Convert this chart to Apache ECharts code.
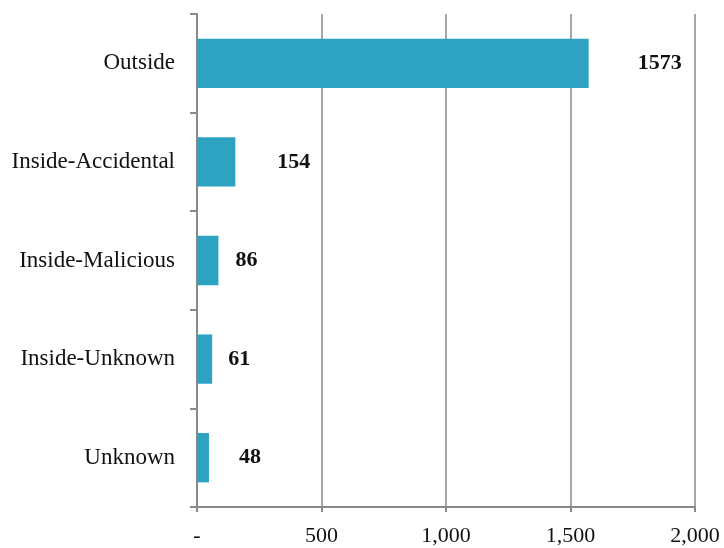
<!DOCTYPE html>
<html>
<head>
<meta charset="utf-8">
<script src="https://cdn.jsdelivr.net/npm/echarts@6/dist/echarts.min.js"></script>
<style>
  html, body { margin: 0; padding: 0; background: #fff; }
  #chart { width: 724px; height: 548px; }
</style>
</head>
<body>
<div id="chart"></div>
<script>
// Incident sources and counts
const categories = ['Outside', 'Inside-Accidental', 'Inside-Malicious', 'Inside-Unknown', 'Unknown'];
const counts = [1573, 154, 86, 61, 48];
// Gap between each bar end and its value label
const labelGaps = [49, 42, 17, 16, 30];

const serif = '"Liberation Serif", "DejaVu Serif", serif';
const axisGray = '#8a8a8a';

const chart = echarts.init(document.getElementById('chart'), null, { renderer: 'canvas' });

chart.setOption({
  animation: false,
  backgroundColor: '#ffffff',
  grid: { left: 197, right: 29, top: 14, bottom: 41, containLabel: false },
  xAxis: {
    type: 'value',
    min: 0,
    max: 2000,
    interval: 500,
    axisLine: { show: true, lineStyle: { color: axisGray, width: 2 } },
    axisTick: { show: true, length: 5, inside: false, lineStyle: { color: axisGray, width: 2 } },
    splitLine: { show: true, lineStyle: { color: axisGray, width: 1.5 } },
    axisLabel: {
      margin: 18,
      color: '#111',
      fontFamily: serif,
      fontSize: 22,
      formatter: v => v === 0 ? '-' : v.toLocaleString('en-US')
    }
  },
  yAxis: {
    type: 'category',
    inverse: true,
    data: categories,
    boundaryGap: true,
    axisLine: { show: true, lineStyle: { color: axisGray, width: 2 } },
    axisTick: { show: true, length: 7, lineStyle: { color: axisGray, width: 2 } },
    axisLabel: {
      margin: 22,
      color: '#111',
      fontFamily: serif,
      fontSize: 23
    },
    splitLine: { show: false }
  },
  series: [{
    type: 'bar',
    barCategoryGap: '50%',
    itemStyle: { color: '#2ea3c1' },
    data: counts.map((v, i) => ({
      value: v,
      label: { distance: labelGaps[i] }
    })),
    label: {
      show: true,
      position: 'right',
      color: '#111',
      fontFamily: serif,
      fontWeight: 'bold',
      fontSize: 22
    }
  }]
});
</script>
</body>
</html>
